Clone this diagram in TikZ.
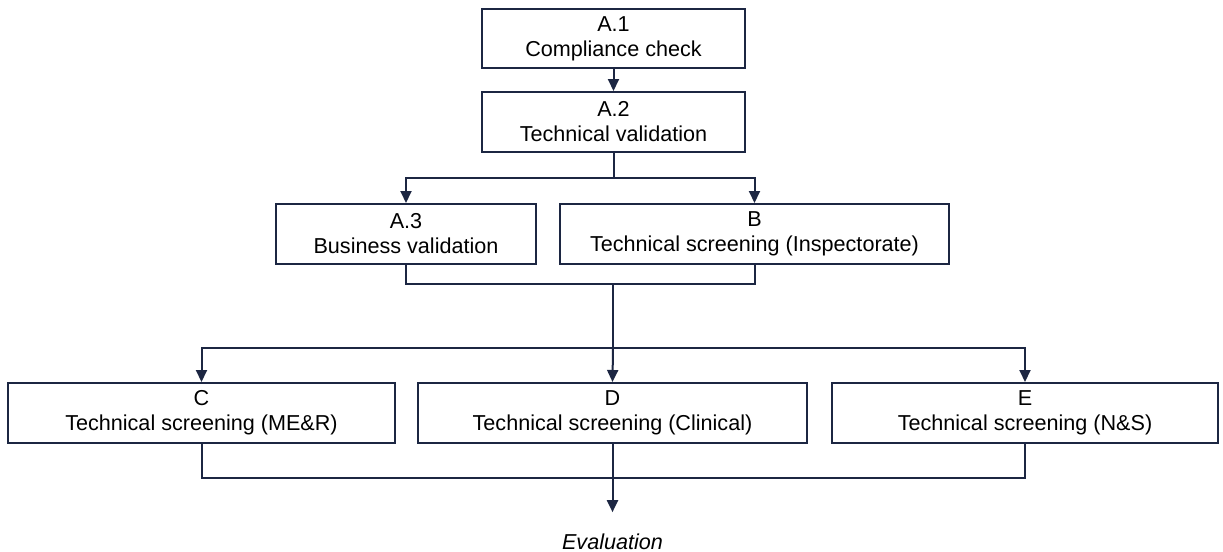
\documentclass[tikz,border=0pt]{standalone}
\usepackage{fontspec}
\setmainfont{Liberation Sans}
\usetikzlibrary{arrows.meta,positioning,calc}
\definecolor{linenavy}{RGB}{28,38,66}

\begin{document}
\begin{tikzpicture}[x=0.5pt, y=-0.5pt, every node/.style={font=\fontsize{10.8}{12.5}\selectfont},
    stage/.style={draw=linenavy, line width=1pt, align=center, inner sep=0pt, minimum height=30pt},
    link/.style={draw=linenavy, line width=1pt},
    flow/.style={link, -{Triangle[length=6pt,width=5.5pt]}}]
  \useasboundingbox (0,0) rectangle (1223,552);
  % validation steps
  \node[stage, minimum width=131.5pt, minimum height=29.5pt] (A1) at (613.5,38.5) {A.1\\Compliance check};
  \node[stage, minimum width=131.5pt] (A2) at (613.5,122) {A.2\\Technical validation};
  \node[stage, minimum width=130pt] (A3) at (406,234) {A.3\\Business validation};
  \node[stage, minimum width=194.5pt] (B) at (754.5,234) {B\\Technical screening (Inspectorate)};
  % screening
  \node[stage, minimum width=193.5pt] (C) at (201.5,413) {C\\Technical screening (ME\&R)};
  \node[stage, minimum width=194.5pt] (D) at (612.5,413) {D\\Technical screening (Clinical)};
  \node[stage, minimum width=193pt] (E) at (1025,413) {E\\Technical screening (N\&S)};
  \node[inner sep=0pt] (eval) at (612.5,541.5) {\itshape Evaluation};
  \coordinate (split1) at (613.5,178);
  \coordinate (join1) at (613,284);
  \coordinate (split2) at (613,348);
  \coordinate (join2) at (612.5,478);
  \draw[flow] (A1) -- (A2);
  \draw[link] (A2.south) -- (split1);
  \draw[flow] (split1) -| (A3.north);
  \draw[flow] (split1) -| (B.north);
  \draw[link] (A3.south) |- (join1) -| (B.south);
  \draw[link] (join1) -- (split2);
  \draw[flow] (split2) -| (C.north);
  \draw[flow] (split2) -- (D.north);
  \draw[flow] (split2) -| (E.north);
  \draw[link] (C.south) |- (join2) -| (E.south);
  \draw[flow] (D.south) -- ([yshift=10.5pt]eval.north);
\end{tikzpicture}
\end{document}
